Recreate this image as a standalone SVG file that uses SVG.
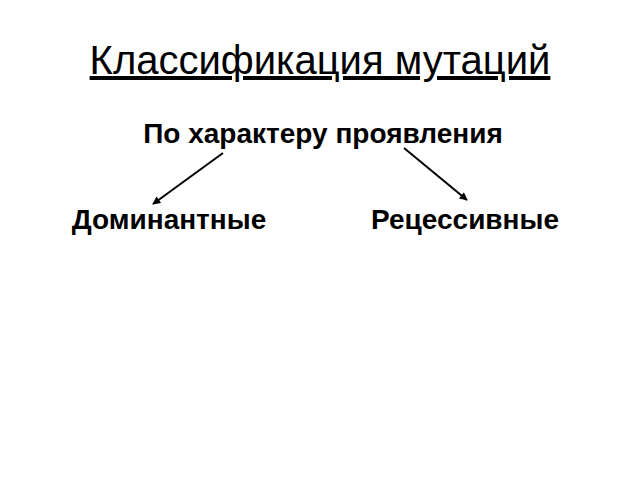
<svg xmlns="http://www.w3.org/2000/svg" width="640" height="480" viewBox="0 0 640 480">
<style>
.t{font-family:"Liberation Sans",Arial,sans-serif;fill:#000}
.b{font-weight:bold;font-size:28px}
.c{stroke:#000;stroke-width:2;fill:none}
</style>
<defs>
<marker id="ah" viewBox="0 0 10 10" refX="9" refY="5" markerWidth="5" markerHeight="4" orient="auto" markerUnits="strokeWidth">
<path d="M0,0 L10,5 L0,10 z" fill="#000"/>
</marker>
</defs>
<rect width="640" height="480" fill="#fff"/>
<g id="title">
<text class="t" x="320" y="74" font-size="40" text-anchor="middle" text-decoration="underline">Классификация мутаций</text>
</g>
<g id="root">
<text class="t b" x="323" y="143" text-anchor="middle">По характеру проявления</text>
</g>
<g id="dominant">
<text class="t b" x="169" y="229" text-anchor="middle">Доминантные</text>
</g>
<g id="recessive">
<text class="t b" x="465" y="229" text-anchor="middle">Рецессивные</text>
</g>
<g id="connectors">
<line class="c" x1="223" y1="153" x2="153" y2="204" marker-end="url(#ah)"/>
<line class="c" x1="404" y1="148" x2="467" y2="200" marker-end="url(#ah)"/>
</g>
</svg>
